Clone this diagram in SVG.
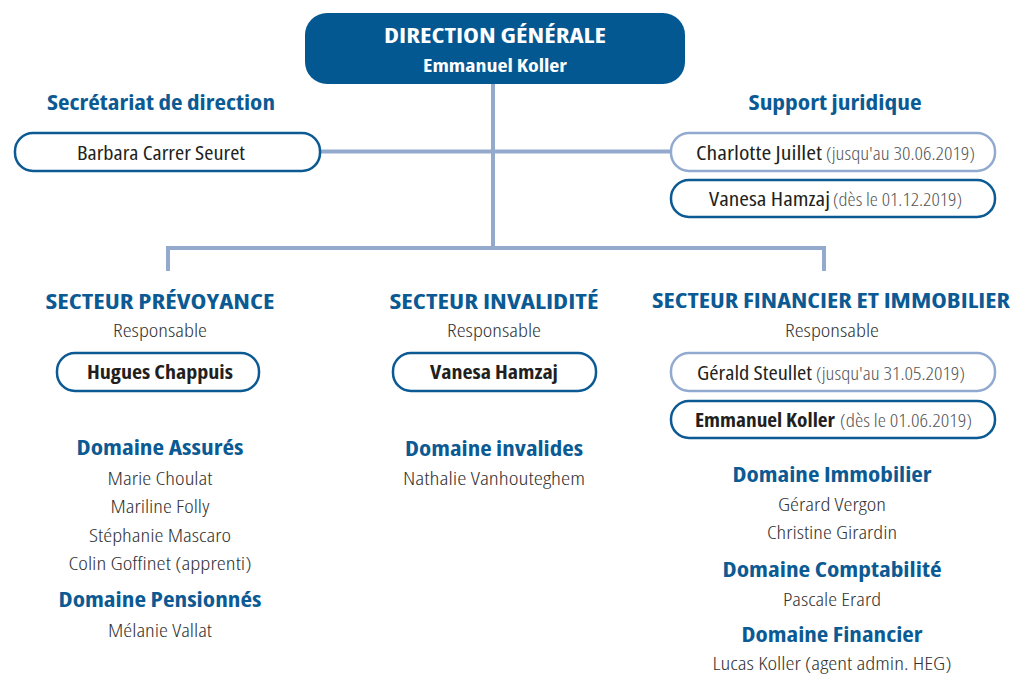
<svg xmlns="http://www.w3.org/2000/svg" width="1014" height="676" viewBox="0 0 1014 676">
<style>
text{font-family:"Open Sans","Liberation Sans",sans-serif;font-stretch:75%}
.h{font-weight:bold;fill:#0b5a93;font-size:20.5px;text-anchor:middle}
.n{font-weight:300;fill:#333;font-size:19px;text-anchor:middle}
.p{fill:#231f20;font-size:19.5px}
.pb{fill:#231f20;font-size:19.5px;font-weight:bold}
.g{font-weight:300;fill:#555;font-size:17.5px}
.bd{fill:#fff;stroke:#0b5a93;stroke-width:2.5}
.bl{fill:#fff;stroke:#92aacf;stroke-width:2.5}
.c{fill:none;stroke:#93aacd;stroke-width:4}
</style>
<g id="connectors">
<line class="c" x1="493" y1="84" x2="493" y2="248"/>
<line class="c" x1="320" y1="151.5" x2="671" y2="151.5"/>
<path class="c" d="M168,271 V248 H824 V271"/>
</g>
<g id="direction">
<rect x="305" y="13" width="380" height="71" rx="22" fill="#045892"/>
<text x="495" y="43" font-size="20.5" font-weight="bold" fill="#fff" text-anchor="middle" textLength="222" lengthAdjust="spacingAndGlyphs">DIRECTION GÉNÉRALE</text>
<text x="495" y="72" font-size="17.5" font-weight="bold" fill="#fff" text-anchor="middle" textLength="144" lengthAdjust="spacingAndGlyphs">Emmanuel Koller</text>
</g>
<g id="secretariat">
<text class="h" x="161" y="110" textLength="228" lengthAdjust="spacingAndGlyphs">Secrétariat de direction</text>
<rect class="bd" x="15" y="133" width="305" height="38" rx="18"/>
<text class="p" x="161" y="160" text-anchor="middle" textLength="168" lengthAdjust="spacingAndGlyphs">Barbara Carrer Seuret</text>
</g>
<g id="support">
<text class="h" x="835" y="110" textLength="173" lengthAdjust="spacingAndGlyphs">Support juridique</text>
<rect class="bl" x="671" y="133" width="324" height="38" rx="18"/>
<text class="p" x="696" y="160" textLength="126" lengthAdjust="spacingAndGlyphs">Charlotte Juillet</text>
<text class="g" x="826" y="160" textLength="149" lengthAdjust="spacingAndGlyphs">(jusqu'au 30.06.2019)</text>
<rect class="bd" x="671" y="180" width="324" height="37" rx="18"/>
<text class="p" x="709" y="206" textLength="121" lengthAdjust="spacingAndGlyphs">Vanesa Hamzaj</text>
<text class="g" x="833" y="206" textLength="129" lengthAdjust="spacingAndGlyphs">(dès le 01.12.2019)</text>
</g>
<g id="prevoyance">
<text class="h" x="160" y="309" textLength="229" lengthAdjust="spacingAndGlyphs">SECTEUR PRÉVOYANCE</text>
<text class="n" x="160" y="337" textLength="94" lengthAdjust="spacingAndGlyphs">Responsable</text>
<rect class="bd" x="57" y="353" width="202" height="38" rx="18"/>
<text class="pb" x="160" y="379" text-anchor="middle" textLength="146" lengthAdjust="spacingAndGlyphs">Hugues Chappuis</text>
<text class="h" x="160" y="455" textLength="167" lengthAdjust="spacingAndGlyphs">Domaine Assurés</text>
<text class="n" x="160" y="485" textLength="105" lengthAdjust="spacingAndGlyphs">Marie Choulat</text>
<text class="n" x="160" y="513" textLength="99" lengthAdjust="spacingAndGlyphs">Mariline Folly</text>
<text class="n" x="160" y="542" textLength="142" lengthAdjust="spacingAndGlyphs">Stéphanie Mascaro</text>
<text class="n" x="160" y="570" textLength="183" lengthAdjust="spacingAndGlyphs">Colin Goffinet (apprenti)</text>
<text class="h" x="160" y="607" textLength="203" lengthAdjust="spacingAndGlyphs">Domaine Pensionnés</text>
<text class="n" x="160" y="637" textLength="104" lengthAdjust="spacingAndGlyphs">Mélanie Vallat</text>
</g>
<g id="invalidite">
<text class="h" x="494" y="309" textLength="209" lengthAdjust="spacingAndGlyphs">SECTEUR INVALIDITÉ</text>
<text class="n" x="494" y="337" textLength="94" lengthAdjust="spacingAndGlyphs">Responsable</text>
<rect class="bd" x="393" y="353" width="203" height="38" rx="18"/>
<text class="pb" x="494" y="379" text-anchor="middle" textLength="128" lengthAdjust="spacingAndGlyphs">Vanesa Hamzaj</text>
<text class="h" x="494" y="456" textLength="178" lengthAdjust="spacingAndGlyphs">Domaine invalides</text>
<text class="n" x="494" y="485" textLength="182" lengthAdjust="spacingAndGlyphs">Nathalie Vanhouteghem</text>
</g>
<g id="financier">
<text class="h" x="831" y="308" textLength="358" lengthAdjust="spacingAndGlyphs">SECTEUR FINANCIER ET IMMOBILIER</text>
<text class="n" x="832" y="337" textLength="94" lengthAdjust="spacingAndGlyphs">Responsable</text>
<rect class="bl" x="671" y="353" width="324" height="38" rx="18"/>
<text class="p" x="697" y="380" textLength="115" lengthAdjust="spacingAndGlyphs">Gérald Steullet</text>
<text class="g" x="816" y="380" textLength="149" lengthAdjust="spacingAndGlyphs">(jusqu'au 31.05.2019)</text>
<rect class="bd" x="671" y="401" width="324" height="37" rx="18"/>
<text class="pb" x="695" y="427" textLength="140" lengthAdjust="spacingAndGlyphs">Emmanuel Koller</text>
<text class="g" x="840" y="427" textLength="132" lengthAdjust="spacingAndGlyphs">(dès le 01.06.2019)</text>
<text class="h" x="832" y="482" textLength="199" lengthAdjust="spacingAndGlyphs">Domaine Immobilier</text>
<text class="n" x="832" y="511" textLength="108" lengthAdjust="spacingAndGlyphs">Gérard Vergon</text>
<text class="n" x="832" y="539" textLength="130" lengthAdjust="spacingAndGlyphs">Christine Girardin</text>
<text class="h" x="832" y="577" textLength="219" lengthAdjust="spacingAndGlyphs">Domaine Comptabilité</text>
<text class="n" x="832" y="606" textLength="98" lengthAdjust="spacingAndGlyphs">Pascale Erard</text>
<text class="h" x="832" y="642" textLength="181" lengthAdjust="spacingAndGlyphs">Domaine Financier</text>
<text class="n" x="832" y="670" textLength="239" lengthAdjust="spacingAndGlyphs">Lucas Koller (agent admin. HEG)</text>
</g>
</svg>
